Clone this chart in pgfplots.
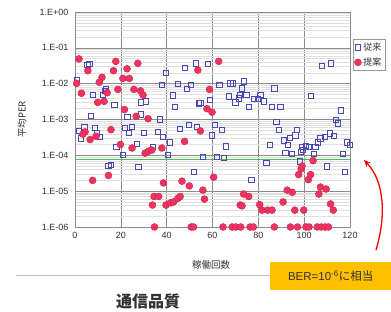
\documentclass[border=0pt]{standalone}
\usepackage{pgfplots}
\pgfplotsset{compat=1.18}
\usepackage{fontspec}
\setmainfont{Liberation Sans}
\newfontfamily\jp{Noto Sans CJK JP}
\usetikzlibrary{arrows.meta}
\definecolor{bluesq}{RGB}{72,72,182}
\definecolor{redfill}{RGB}{236,52,96}
\definecolor{redline}{RGB}{205,35,75}
\definecolor{berline}{RGB}{70,190,80}
\definecolor{boxfill}{RGB}{255,192,0}
\definecolor{txt}{RGB}{50,50,50}
\begin{document}
\begin{tikzpicture}
\useasboundingbox (0,0) rectangle (391pt,312pt);
\fill[white] (0,0) rectangle (391pt,312pt);
\begin{axis}[
  at={(75pt,85pt)}, anchor=south west,
  width=275pt, height=215pt, scale only axis,
  xmin=0, xmax=120, ymin=1e-6, ymax=1,
  ymode=log,
  xtick={0,20,...,120},
  ytick={1e-6,1e-5,1e-4,1e-3,1e-2,1e-1,1},
  yticklabels={1.E-06,1.E-05,1.E-04,1.E-03,1.E-02,1.E-01,1.E+00},
  /pgf/number format/assume math mode=true,
  tick label style={font=\fontsize{9}{11}\selectfont, text=txt},
  xticklabel style={yshift=-2pt},
  yticklabel style={xshift=-3pt},
  major tick length=0pt, minor tick length=0pt,
  xmajorgrids, ymajorgrids, yminorgrids,
  major grid style={draw=black!45, line width=0.6pt},
  minor grid style={draw=black!12, line width=0.5pt},
  axis line style={draw=black!45, line width=0.6pt},
  xlabel={\jp 稼働回数},
  ylabel={\jp 平均PER},
  label style={font=\fontsize{9.5}{11}\selectfont, text=txt},
  xlabel style={at={(axis description cs:0.495,-0.177)}, anchor=center},
  ylabel style={at={(axis description cs:-0.193,0.5)}, anchor=center},
  legend style={at={(1.01,0.874)}, anchor=north west, draw=black!40,
    font=\jp\fontsize{9}{10}\selectfont, text=txt, inner sep=1.5pt,
    row sep=2pt, cells={anchor=west}},
  legend cell align=left,
  clip=false,
]
\addplot[only marks, mark=square, mark size=2.6pt, mark options={draw=bluesq, line width=0.8pt}] coordinates {
(0.7,1.26e-2) (5.4,3.4e-2) (6.3,3.5e-2) (7.7,4.8e-3) (12.1,4.8e-3) (13.6,6.9e-3)
(17.2,2.6e-3) (6.9,1.26e-3) (1.7,4.7e-4) (4.1,6.2e-4) (2.6,2.95e-4) (8.7,5.8e-4)
(9.5,4.3e-4) (10.9,3.2e-4) (22.9,1.2e-3) (28.7,1.38e-3) (21.9,5.8e-4) (24.8,6.2e-4)
(23.6,4.3e-4) (30.2,4.3e-4) (18.1,1.7e-4) (20.9,1.05e-4) (27.0,2.1e-4) (34.0,1.7e-4)
(28.9,3.0e-3) (30.9,3.2e-3) (37.0,1.0e-3) (36.0,4.5e-4) (38.2,3.2e-4) (41.4,2.3e-4)
(40.7,1.05e-4) (37.9,9.1e-3) (39.8,1.95e-2) (42.7,4.7e-3) (43.7,2.2e-3) (44.9,9.8e-3)
(47.8,2.8e-2) (48.8,7.1e-3) (50.7,9.1e-3) (52.8,3.7e-2) (53.9,2.8e-3) (45.9,5.6e-4)
(49.8,6.9e-4) (53.2,6.2e-4) (58.0,3.5e-2) (54.7,2.95e-3) (59.0,3.6e-3) (63.0,9.1e-3)
(67.8,1.02e-2) (68.9,1.02e-2) (73.6,1.15e-2) (72.9,7.4e-3) (67.0,4.4e-3) (70.0,3.0e-3)
(71.4,3.9e-3) (71.8,4.8e-3) (74.8,4.8e-3) (75.8,2.2e-3) (78.0,3.7e-3) (79.7,3.7e-3)
(80.9,4.8e-3) (82.3,3.2e-3) (86.0,2.2e-3) (89.6,2.3e-3) (87.0,7.4e-3) (102.8,4.6e-3)
(107.9,3.2e-2) (111.8,3.7e-2) (115.9,1.8e-3) (113.7,9.5e-4) (114.8,7.8e-4) (60.9,7.2e-4)
(64.0,5.0e-4) (59.8,3.6e-4) (65.9,1.78e-4) (55.8,8.9e-5) (62.0,8.9e-5) (64.8,8.5e-5)
(87.9,8.5e-4) (88.9,5.2e-4) (85.0,2.0e-4) (91.1,2.6e-4) (92.8,2.0e-4) (93.7,3.0e-4)
(96.2,3.6e-4) (96.9,5.2e-4) (91.8,1.15e-4) (94.8,1.07e-4) (99.1,1.7e-4) (100.6,1.8e-4)
(102.0,1.7e-4) (98.7,1.23e-4) (104.9,1.7e-4) (106.0,2.3e-4) (107.1,2.95e-4) (108.9,3.2e-4)
(111.1,4.1e-4) (113.0,3.4e-4) (104.2,1.07e-4) (116.9,1.07e-4) (118.8,2.3e-4) (119.9,2.0e-4)
(14.6,5.0e-5) (15.6,5.5e-5) (27.7,4.7e-5) (51.9,3.4e-5) (77.0,2.1e-5) (83.5,6.0e-5)
(98.0,6.8e-5) (109.8,4.9e-5) (117.8,3.5e-5) (99.3,1.45e-4) (13.0,6.3e-3)
};
\addlegendentry{従来}
\addplot[only marks, mark=*, mark size=3.5pt, mark options={fill=redfill, draw=redline, line width=0.4pt}] coordinates {
(1.7,4.9e-2) (5.6,2.3e-2) (0.7,1.02e-2) (2.8,5.4e-3) (11.8,1.5e-2) (10.6,1.1e-2)
(14.0,5.6e-3) (9.9,3.0e-3) (12.7,3.2e-3) (17.8,4.2e-2) (16.8,2.3e-2) (22.7,2.6e-2)
(27.4,3.7e-2) (20.9,1.4e-2) (23.7,1.4e-2) (18.7,6.9e-3) (25.7,6.9e-3) (28.6,6.3e-3)
(29.7,4.8e-3) (21.6,1.9e-3) (26.7,1.23e-3) (31.9,1.05e-3) (15.7,5.2e-4) (4.4,4.5e-4)
(3.4,3.9e-4) (6.6,2.75e-4) (9.2,3.4e-4) (19.8,2.0e-4) (24.9,1.6e-4) (30.6,1.15e-4)
(32.1,1.3e-4) (33.5,1.4e-4) (37.9,1.6e-4) (47.8,2.45e-4) (53.6,2.4e-2) (62.7,4.2e-2)
(58.7,6.9e-3) (57.6,2.0e-3) (59.8,1.6e-3) (54.7,4.8e-4) (103.9,7.1e-5) (7.7,2.0e-5)
(14.6,2.75e-5) (38.6,1.7e-5) (46.7,1.9e-5) (49.9,1.4e-5) (34.5,7.1e-6) (36.5,7.1e-6)
(33.8,4.1e-6) (39.7,4.1e-6) (41.6,4.7e-6) (43.0,5.0e-6) (44.9,6.3e-6) (45.9,7.1e-6)
(34.7,1e-6) (50.7,1e-6) (51.7,1e-6) (55.8,1.07e-5) (56.5,6.0e-6) (60.5,2.45e-5)
(73.6,8.3e-6) (75.8,7.1e-6) (72.1,4.1e-6) (72.9,3.9e-6) (80.6,4.2e-6) (81.6,2.95e-6)
(84.1,2.95e-6) (86.0,2.95e-6) (90.8,5.0e-6) (92.6,1.07e-5) (94.8,9.3e-6) (95.9,2.95e-6)
(99.8,2.95e-6) (97.6,2.9e-5) (98.7,4.2e-5) (99.1,5.0e-5) (101.8,2.1e-5) (102.8,2.9e-5)
(107.1,1.3e-5) (109.6,1.15e-5) (106.4,8.3e-6) (111.5,4.4e-6) (112.7,2.95e-6)
(64.6,1e-6) (68.6,1e-6) (70.1,1e-6) (72.3,1e-6) (76.4,1e-6) (77.8,1e-6) (87.0,1e-6)
(94.0,1e-6) (97.1,1e-6) (100.8,1e-6) (102.1,1e-6) (105.7,1e-6) (107.5,1e-6)
(109.2,1e-6) (110.6,1e-6)
};
\addlegendentry{提案}
\addplot[berline, line width=1.5pt, forget plot] coordinates {(0,7.6e-5) (120,7.6e-5)};
\end{axis}
\draw[black!25, line width=0.6pt] (16pt,37pt) -- (330pt,37pt);
\node[font=\jp\bfseries\fontsize{16}{18}\selectfont, text=txt] at (148pt,11pt) {通信品質};
\node[fill=boxfill, anchor=north west, minimum width=121pt, minimum height=28pt, inner sep=0pt,
  font=\fontsize{11.5}{13}\selectfont, text=txt] at (270pt,50pt) {BER=10\textsuperscript{-6}{\jp に相当}};
\draw[red, line width=1.3pt, -{Stealth[length=7pt,width=6pt]}] (376pt,62pt) .. controls (386pt,95pt) and (385pt,130pt) .. (364pt,152pt);
\end{tikzpicture}
\end{document}
